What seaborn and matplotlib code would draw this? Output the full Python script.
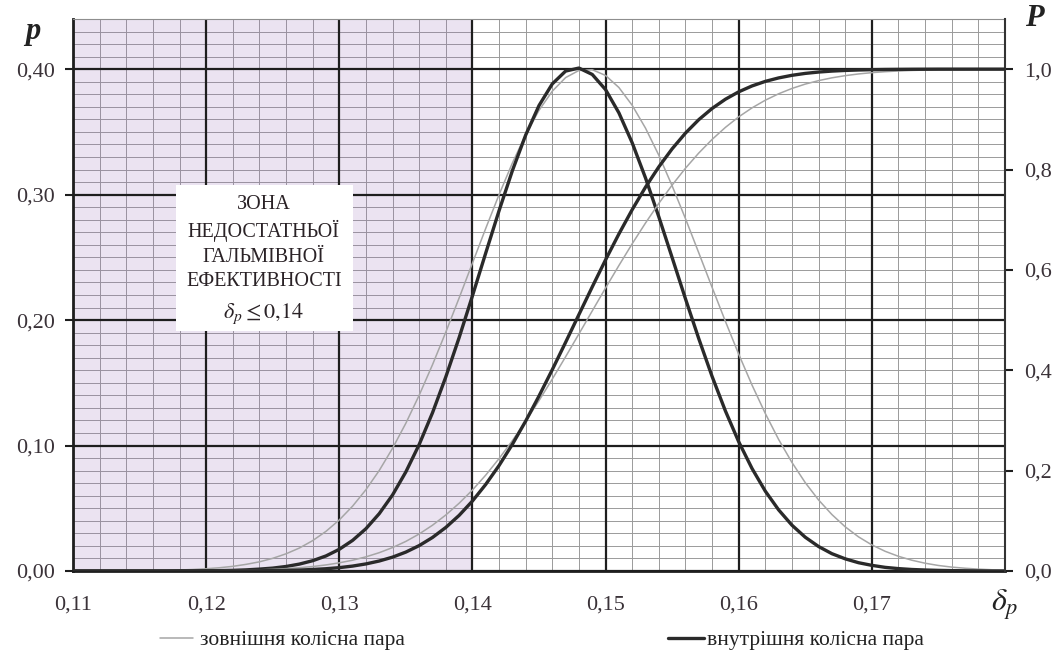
import matplotlib
matplotlib.use("Agg")
import matplotlib.pyplot as plt
from matplotlib.ticker import MultipleLocator
from matplotlib.lines import Line2D
from matplotlib.patches import Rectangle
import pandas as pd
import seaborn as sns

# ---------------- data ----------------
delta = [0.110, 0.111, 0.112, 0.113, 0.114, 0.115, 0.116, 0.117, 0.118, 0.119,
         0.120, 0.121, 0.122, 0.123, 0.124, 0.125, 0.126, 0.127, 0.128, 0.129,
         0.130, 0.131, 0.132, 0.133, 0.134, 0.135, 0.136, 0.137, 0.138, 0.139,
         0.140, 0.141, 0.142, 0.143, 0.144, 0.145, 0.146, 0.147, 0.148, 0.149,
         0.150, 0.151, 0.152, 0.153, 0.154, 0.155, 0.156, 0.157, 0.158, 0.159,
         0.160, 0.161, 0.162, 0.163, 0.164, 0.165, 0.166, 0.167, 0.168, 0.169,
         0.170, 0.171, 0.172, 0.173, 0.174, 0.175, 0.176, 0.177, 0.178, 0.179,
         0.180]

# density p, outer wheel pair (thin grey)
pdf_outer = [0.0000, 0.0000, 0.0001, 0.0001, 0.0001, 0.0002, 0.0004, 0.0005, 0.0008, 0.0012,
             0.0018, 0.0026, 0.0037, 0.0053, 0.0073, 0.0101, 0.0137, 0.0183, 0.0242, 0.0316,
             0.0407, 0.0517, 0.0648, 0.0801, 0.0978, 0.1178, 0.1401, 0.1644, 0.1904, 0.2176,
             0.2454, 0.2731, 0.3000, 0.3252, 0.3478, 0.3672, 0.3825, 0.3933, 0.3990, 0.3996,
             0.3950, 0.3854, 0.3712, 0.3530, 0.3314, 0.3070, 0.2809, 0.2536, 0.2261, 0.1990,
             0.1728, 0.1482, 0.1255, 0.1048, 0.0865, 0.0704, 0.0566, 0.0450, 0.0352, 0.0272,
             0.0208, 0.0157, 0.0117, 0.0086, 0.0062, 0.0044, 0.0031, 0.0022, 0.0015, 0.0010,
             0.0007]

# density p, inner wheel pair (thick dark)
pdf_inner = [0.0000, 0.0000, 0.0000, 0.0000, 0.0000, 0.0000, 0.0000, 0.0000, 0.0001, 0.0001,
             0.0002, 0.0003, 0.0005, 0.0009, 0.0015, 0.0023, 0.0036, 0.0055, 0.0082, 0.0120,
             0.0173, 0.0244, 0.0337, 0.0457, 0.0606, 0.0790, 0.1008, 0.1261, 0.1547, 0.1860,
             0.2193, 0.2535, 0.2872, 0.3191, 0.3475, 0.3710, 0.3883, 0.3985, 0.4009, 0.3958,
             0.3837, 0.3652, 0.3413, 0.3133, 0.2823, 0.2498, 0.2170, 0.1852, 0.1551, 0.1276,
             0.1030, 0.0817, 0.0636, 0.0487, 0.0365, 0.0269, 0.0195, 0.0138, 0.0097, 0.0066,
             0.0045, 0.0029, 0.0019, 0.0012, 0.0008, 0.0005, 0.0003, 0.0002, 0.0001, 0.0000,
             0.0000]

# cumulative P, outer wheel pair
cdf_outer = [0.0000, 0.0000, 0.0000, 0.0000, 0.0000, 0.0001, 0.0001, 0.0001, 0.0002, 0.0003,
             0.0005, 0.0008, 0.0011, 0.0016, 0.0023, 0.0033, 0.0047, 0.0065, 0.0089, 0.0121,
             0.0163, 0.0215, 0.0282, 0.0365, 0.0467, 0.0590, 0.0738, 0.0912, 0.1116, 0.1350,
             0.1614, 0.1911, 0.2240, 0.2598, 0.2984, 0.3395, 0.3825, 0.4270, 0.4725, 0.5183,
             0.5640, 0.6087, 0.6521, 0.6935, 0.7326, 0.7691, 0.8026, 0.8329, 0.8600, 0.8840,
             0.9050, 0.9229, 0.9382, 0.9510, 0.9616, 0.9703, 0.9772, 0.9828, 0.9871, 0.9905,
             0.9931, 0.9950, 0.9964, 0.9975, 0.9982, 0.9988, 0.9992, 0.9994, 0.9996, 0.9997,
             0.9998]

# cumulative P, inner wheel pair
cdf_inner = [0.0000, 0.0000, 0.0000, 0.0000, 0.0000, 0.0000, 0.0000, 0.0000, 0.0000, 0.0000,
             0.0001, 0.0001, 0.0002, 0.0003, 0.0005, 0.0008, 0.0012, 0.0019, 0.0030, 0.0045,
             0.0067, 0.0098, 0.0141, 0.0199, 0.0276, 0.0377, 0.0506, 0.0668, 0.0868, 0.1108,
             0.1394, 0.1726, 0.2102, 0.2524, 0.2988, 0.3487, 0.4013, 0.4558, 0.5111, 0.5662,
             0.6201, 0.6716, 0.7201, 0.7649, 0.8054, 0.8413, 0.8726, 0.8994, 0.9217, 0.9401,
             0.9549, 0.9666, 0.9757, 0.9826, 0.9878, 0.9916, 0.9943, 0.9962, 0.9975, 0.9984,
             0.9990, 0.9994, 0.9996, 0.9998, 0.9999, 1.0000, 1.0000, 1.0000, 1.0000, 1.0000,
             1.0000]

x_ticks = [0.11, 0.12, 0.13, 0.14, 0.15, 0.16, 0.17]
x_tick_labels = ["0,11", "0,12", "0,13", "0,14", "0,15", "0,16", "0,17"]
p_ticks = [0.0, 0.1, 0.2, 0.3, 0.4]
p_tick_labels = ["0,00", "0,10", "0,20", "0,30", "0,40"]
P_ticks = [0.0, 0.2, 0.4, 0.6, 0.8, 1.0]
P_tick_labels = ["0,0", "0,2", "0,4", "0,6", "0,8", "1,0"]
zone_limit = 0.14
zone_lines = ["ЗОНА", "НЕДОСТАТНЬОЇ", "ГАЛЬМІВНОЇ", "ЕФЕКТИВНОСТІ"]
zone_condition = r"$\delta_p \leq 0{,}14$"
legend_labels = ["зовнішня колісна пара", "внутрішня колісна пара"]

df = pd.DataFrame({"delta": delta, "pdf_outer": pdf_outer, "pdf_inner": pdf_inner,
                   "cdf_outer": cdf_outer, "cdf_inner": cdf_inner})

# ---------------- style ----------------
sns.set_theme(style="white")
plt.rcParams["font.family"] = ["Liberation Serif", "DejaVu Serif"]
plt.rcParams["mathtext.fontset"] = "stix"

W, H = 1057, 657
fig = plt.figure(figsize=(W / 100, H / 100), dpi=100)
ax = fig.add_axes([73 / W, 86 / H, 932 / W, 552 / H])

DARK = "#1e1e1e"
LABEL = "#3a3238"
OUTER_C = "#a6a6a6"
INNER_C = "#2a2a2a"

ax.set_xlim(0.11, 0.18)
ax.set_ylim(0, 0.44)
ax.set_xticks(x_ticks, x_tick_labels)
ax.set_yticks(p_ticks, p_tick_labels)
ax.xaxis.set_minor_locator(MultipleLocator(0.002))
ax.yaxis.set_minor_locator(MultipleLocator(0.01))
ax.set_axisbelow(True)
ax.grid(which="minor", color="#9a9a9a", linewidth=0.7)
ax.grid(which="major", visible=False)

# shaded zone of insufficient braking efficiency
ax.axvspan(0.11, zone_limit, color="#9468b4", alpha=0.18, lw=0, zorder=0.8)

# major grid lines from the axis ticks
for v in ax.get_xticks():
    ax.axvline(v, color=DARK, lw=1.6, zorder=1)
for h in ax.get_yticks():
    ax.axhline(h, color=DARK, lw=1.6, zorder=1)

ax.tick_params(axis="both", which="major", direction="out", length=6, width=1.5,
               color=DARK, labelsize=16, labelcolor=LABEL)
ax.tick_params(axis="x", which="major", pad=12)
ax.tick_params(axis="y", which="major", pad=7)
ax.tick_params(which="minor", length=0)
for s in ["left", "bottom"]:
    ax.spines[s].set_color(DARK)
    ax.spines[s].set_linewidth(2)
ax.spines["top"].set_color("#8e8e8e")
ax.spines["top"].set_linewidth(0.8)
ax.spines["right"].set_visible(False)

# density curves
sns.lineplot(data=df, x="delta", y="pdf_outer", ax=ax, color=OUTER_C, lw=1.1, zorder=3,
             solid_joinstyle="round")
sns.lineplot(data=df, x="delta", y="pdf_inner", ax=ax, color=INNER_C, lw=2.4, zorder=4,
             solid_joinstyle="round")
ax.set_xlabel("")
ax.set_ylabel("")

# zone label box
ax.add_patch(Rectangle((0.1177, 0.191), 0.0133, 0.117, facecolor="white",
                       edgecolor="none", zorder=1.5))
ax.text(0.12433, 0.2616, "\n".join(zone_lines), ha="center", va="center",
        fontsize=14.5, linespacing=1.38, color="#2a2226", zorder=2)
ax.text(0.12433, 0.205, zone_condition, ha="center", va="center",
        fontsize=16, color="#2a2226", zorder=2)

# cumulative curves on the right axis
ax2 = ax.twinx()
ax2.set_ylim(0, 1.1)
ax2.set_yticks(P_ticks, P_tick_labels)
ax2.grid(False)
sns.lineplot(data=df, x="delta", y="cdf_outer", ax=ax2, color=OUTER_C, lw=1.1, zorder=3,
             solid_joinstyle="round")
sns.lineplot(data=df, x="delta", y="cdf_inner", ax=ax2, color=INNER_C, lw=2.4, zorder=4,
             solid_joinstyle="round")
ax2.set_xlabel("")
ax2.set_ylabel("")
ax2.tick_params(axis="y", which="major", direction="out", length=6, width=1.5,
                color=DARK, labelsize=16, labelcolor=LABEL, pad=8)
for s in ["left", "bottom", "top"]:
    ax2.spines[s].set_visible(False)
ax2.spines["right"].set_color("#333333")
ax2.spines["right"].set_linewidth(1.5)

# axis titles
fig.text(33 / W, 1 - 31 / H, "p", fontsize=22, fontweight="bold", fontstyle="italic",
         ha="center", va="center", color="#222222")
fig.text(1034 / W, 1 - 19 / H, "P", fontsize=22, fontweight="bold", fontstyle="italic",
         ha="center", va="center", color="#222222")
fig.text(1005 / W, 1 - 605 / H, r"$\delta_p$", fontsize=23, ha="center", va="center",
         color="#222222")

# legends
fig.legend(handles=[Line2D([], [], color=OUTER_C, lw=1.1)], labels=[legend_labels[0]],
           loc="center left", bbox_to_anchor=(160 / W, 1 - 640 / H), frameon=False,
           fontsize=15.5, handlelength=1.55, handletextpad=0.3, borderpad=0, borderaxespad=0,
           labelcolor="#222222")
fig.legend(handles=[Line2D([], [], color=INNER_C, lw=2.4)], labels=[legend_labels[1]],
           loc="center left", bbox_to_anchor=(668 / W, 1 - 640 / H), frameon=False,
           fontsize=15.5, handlelength=1.65, handletextpad=0.15, borderpad=0, borderaxespad=0,
           labelcolor="#222222")

fig.savefig("out.png", dpi=100)
